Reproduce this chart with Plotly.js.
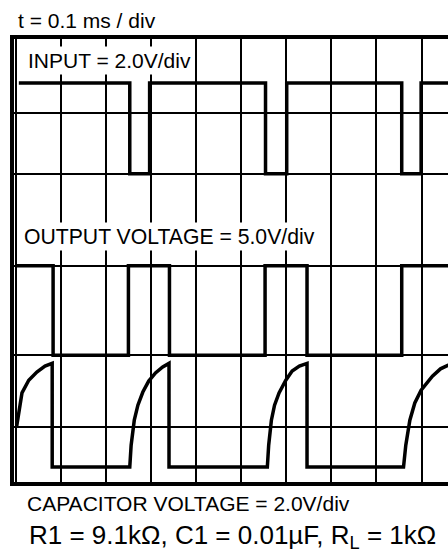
<!DOCTYPE html>
<html>
<head>
<meta charset="utf-8">
<script src="https://cdn.plot.ly/plotly-3.0.1.min.js"></script>
<style>html,body{margin:0;padding:0;background:#fff;overflow:hidden}</style>
</head>
<body>
<div id="chart" style="width:448px;height:552px"></div>
<script>
// time in ms (0.1 ms / div), levels in screen divisions from the bottom edge
const inputTime  = [0.007, 0.253, 0.253, 0.297, 0.297, 0.554, 0.554, 0.601, 0.601, 0.856, 0.856, 0.899, 0.899, 1.0];
const inputLevel = [8.78, 8.78, 6.78, 6.78, 8.78, 8.78, 6.78, 6.78, 8.78, 8.78, 6.78, 6.78, 8.78, 8.78];

const outputTime  = [0, 0.083, 0.083, 0.250, 0.250, 0.341, 0.341, 0.553, 0.553, 0.646, 0.646, 0.856, 0.856, 1.0];
const outputLevel = [4.76, 4.76, 2.79, 2.79, 4.76, 4.76, 2.79, 2.79, 4.76, 4.76, 2.79, 2.79, 4.76, 4.76];

const capTime  = [0.002, 0.007, 0.014, 0.029, 0.047, 0.065, 0.081, 0.081,
                  0.253, 0.256, 0.263, 0.271, 0.282, 0.295, 0.310, 0.326, 0.340, 0.340,
                  0.558, 0.561, 0.567, 0.574, 0.584, 0.599, 0.613, 0.629, 0.646, 0.646,
                  0.860, 0.865, 0.874, 0.885, 0.899, 0.924, 0.942, 0.959, 0.977];
const capLevel = [1.21, 1.58, 1.96, 2.24, 2.42, 2.55, 2.61, 0.33,
                  0.33, 0.81, 1.36, 1.69, 1.98, 2.22, 2.40, 2.53, 2.61, 0.33,
                  0.33, 0.81, 1.36, 1.69, 1.96, 2.24, 2.44, 2.55, 2.61, 0.33,
                  0.33, 0.81, 1.36, 1.74, 2.02, 2.33, 2.49, 2.57, 2.61];

const gridRows = [1.22, 2.79, 4.76, 6.78, 8.12];

const timeLabel   = 't = 0.1 ms / div';
const inputLabel  = 'INPUT = 2.0V/div';
const outputLabel = 'OUTPUT VOLTAGE = 5.0V/div';
const capLabel    = 'CAPACITOR VOLTAGE = 2.0V/div';
const partsLabel  = 'R1 = 9.1kΩ, C1 = 0.01µF, R<sub>L</sub> = 1kΩ';

const W = 448, H = 552, L = 14, R = 0, T = 39, B = 70;
const PW = W - L - R, PH = H - T - B;
const px = x => (x - L) / PW;
const py = y => (H - B - y) / PH;

const FONT = 'Liberation Sans, Arial, Helvetica, sans-serif';
const lineStyle = {color: '#000', width: 3.5};

const traces = [
  {x: inputTime, y: inputLevel, mode: 'lines', line: lineStyle, hoverinfo: 'skip'},
  {x: outputTime, y: outputLevel, mode: 'lines', line: lineStyle, hoverinfo: 'skip'},
  {x: capTime, y: capLevel, mode: 'lines', line: lineStyle, hoverinfo: 'skip'}
];

const axisCommon = {
  showgrid: true, gridcolor: '#000', gridwidth: 2,
  showline: true, linecolor: '#000', linewidth: 4, mirror: true,
  zeroline: false, showticklabels: false, ticks: '', fixedrange: true
};

const ann = (text, x, y, size, bg, pad) => ({
  text, x: px(x), y: py(y), xref: 'paper', yref: 'paper',
  xanchor: 'left', yanchor: 'middle', showarrow: false,
  font: {family: FONT, size, color: '#000'},
  bgcolor: bg ? '#fff' : 'rgba(0,0,0,0)', borderpad: pad
});

const layout = {
  width: W, height: H,
  margin: {l: L, r: R, t: T, b: B, pad: 0},
  paper_bgcolor: '#fff', plot_bgcolor: '#fff',
  showlegend: false,
  font: {family: FONT, color: '#000'},
  xaxis: Object.assign({}, axisCommon, {range: [-0.0037, 0.9586], tick0: 0, dtick: 0.1}),
  yaxis: Object.assign({}, axisCommon, {range: [0, PH / 45.45], tickmode: 'array', tickvals: gridRows}),
  annotations: [
    ann(timeLabel, 15, 21, 21, false, 2),
    ann(inputLabel, 25, 60.5, 21, true, 2),
    ann(outputLabel, 21, 236, 21.2, true, 2),
    ann(capLabel, 24, 504, 21, false, 2),
    ann(partsLabel, 28, 536, 26, false, 0)
  ]
};

Plotly.newPlot('chart', traces, layout, {staticPlot: true, displayModeBar: false});
</script>
</body>
</html>
